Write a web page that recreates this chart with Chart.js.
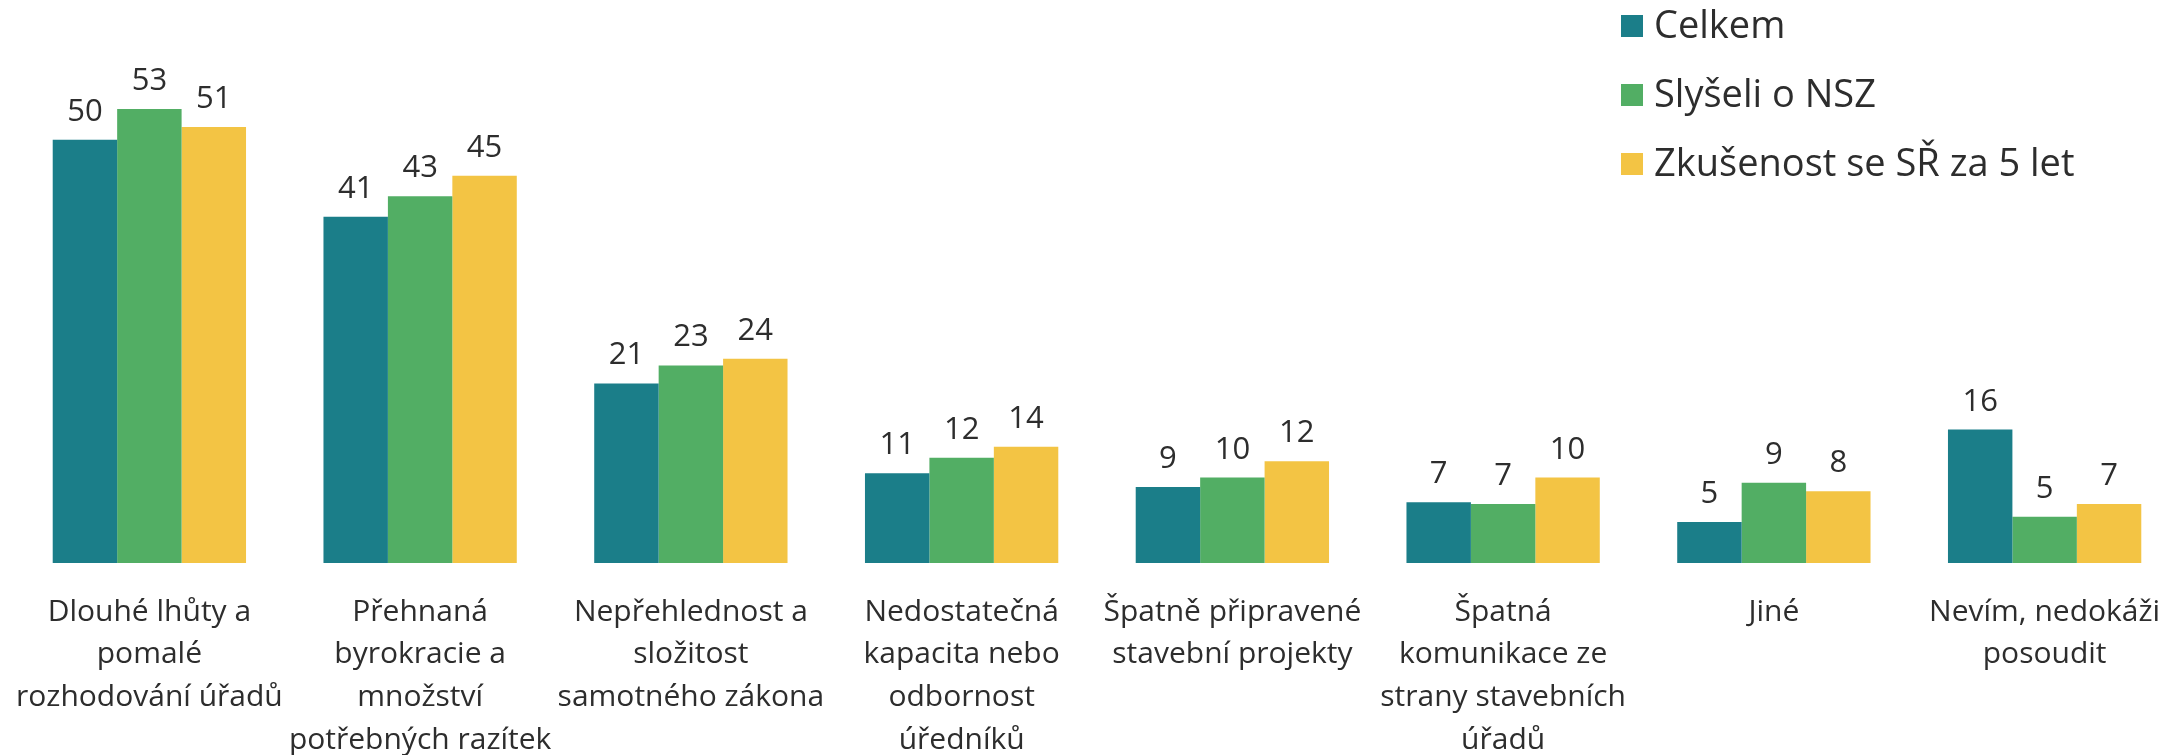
<!DOCTYPE html>
<html>
<head>
<meta charset="utf-8">
<script src="https://cdn.jsdelivr.net/npm/chart.js@4"></script>
<style>
  html, body { margin: 0; padding: 0; background: #fff; }
  #wrap { width: 2183px; height: 755px; }
</style>
</head>
<body>
<div id="wrap"><canvas id="chart"></canvas></div>
<script>
const categories = [
    ['Dlouhé lhůty a', 'pomalé', 'rozhodování úřadů'],
    ['Přehnaná', 'byrokracie a', 'množství', 'potřebných razítek'],
    ['Nepřehlednost a', 'složitost', 'samotného zákona'],
    ['Nedostatečná', 'kapacita nebo', 'odbornost', 'úředníků'],
    ['Špatně připravené', 'stavební projekty'],
    ['Špatná', 'komunikace ze', 'strany stavebních', 'úřadů'],
    ['Jiné'],
    ['Nevím, nedokáži', 'posoudit']
];
const seriesNames = ['Celkem', 'Slyšeli o NSZ', 'Zkušenost se SŘ za 5 let'];
const celkem = [49.5, 40.5, 21.0, 10.5, 8.9, 7.1, 4.8, 15.6];
const slyseli = [53.1, 42.9, 23.1, 12.3, 10.0, 6.9, 9.4, 5.4];
const zkusenost = [51.0, 45.3, 23.9, 13.6, 11.9, 10.0, 8.4, 6.9];
const colors = ['#1b7e89', '#52ae64', '#f3c444'];

const FONT = '"Open Sans", "Noto Sans", sans-serif';
const TEXT = '#2d2d2d';

// popisky hodnot nad sloupci
const valueLabels = {
    id: 'valueLabels',
    afterDatasetsDraw(chart) {
        const ctx = chart.ctx;
        ctx.save();
        ctx.font = '31px ' + FONT;
        ctx.fillStyle = TEXT;
        ctx.textAlign = 'center';
        ctx.textBaseline = 'alphabetic';
        chart.data.datasets.forEach((ds, i) => {
            chart.getDatasetMeta(i).data.forEach((bar, j) => {
                ctx.fillText(String(Math.round(ds.data[j])), bar.x, bar.y - 19);
            });
        });
        ctx.restore();
    }
};

// legenda vpravo nahoře přes plochu grafu
const cornerLegend = {
    id: 'cornerLegend',
    afterDraw(chart) {
        const ctx = chart.ctx;
        const x = chart.width - 562;
        ctx.save();
        ctx.font = '38px ' + FONT;
        ctx.textBaseline = 'middle';
        ctx.textAlign = 'left';
        chart.data.datasets.forEach((ds, i) => {
            const y = 26 + i * 69;
            ctx.fillStyle = ds.backgroundColor;
            ctx.fillRect(x, y - 11, 22, 22);
            ctx.fillStyle = TEXT;
            ctx.fillText(ds.label, x + 33, y + 1);
        });
        ctx.restore();
    }
};

const ctx = document.getElementById('chart').getContext('2d');

new Chart(ctx, {
    type: 'bar',
    data: {
        labels: categories,
        datasets: [
            { label: seriesNames[0], data: celkem, backgroundColor: colors[0] },
            { label: seriesNames[1], data: slyseli, backgroundColor: colors[1] },
            { label: seriesNames[2], data: zkusenost, backgroundColor: colors[2] }
        ]
    },
    options: {
        responsive: true,
        maintainAspectRatio: false,
        animation: false,
        layout: { padding: { left: 14, right: 3, top: 50, bottom: 0 } },
        datasets: {
            bar: { categoryPercentage: 0.714, barPercentage: 1.0 }
        },
        plugins: {
            legend: { display: false },
            tooltip: { enabled: false }
        },
        scales: {
            x: {
                grid: { display: false, drawTicks: false },
                border: { display: false },
                ticks: {
                    color: TEXT,
                    font: { family: FONT, size: 30, lineHeight: 1.42 },
                    padding: 28,
                    maxRotation: 0,
                    autoSkip: false
                },
                afterFit(scale) {
                    scale.height = 192;
                    // popisky smí přesahovat okraj, plocha grafu se nezužuje
                    scale.paddingLeft = 0;
                    scale.paddingRight = 0;
                }
            },
            y: {
                display: false,
                min: 0,
                max: 60
            }
        }
    },
    plugins: [valueLabels, cornerLegend]
});
</script>
</body>
</html>
